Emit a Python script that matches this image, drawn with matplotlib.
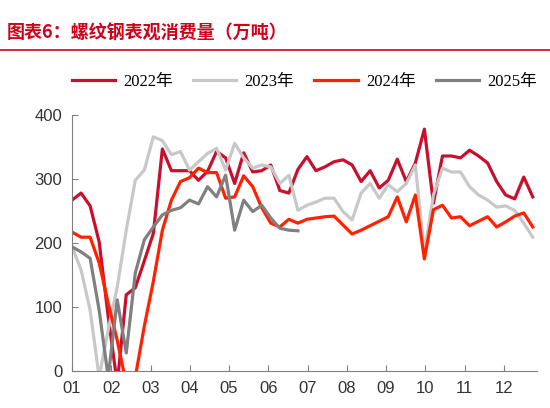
import numpy as np
import matplotlib.pyplot as plt
from matplotlib.lines import Line2D

# weekly apparent consumption of rebar (10k tonnes)
v2022 = [267, 278, 258, 202, 85, -20, 119, 130, 172, 215, 347, 313, 313, 313, 298, 312, 343, 333,
         293, 341, 311, 313, 322, 282, 278, 315, 335, 313, 319, 327, 330, 322, 296, 313, 286, 298,
         331, 296, 325, 378, 262, 336, 336, 333, 345, 336, 325, 296, 275, 269, 303, 272]
v2023 = [194, 158, 95, -10, 64, 131, 220, 298, 314, 366, 360, 338, 343, 314, 327, 340, 348, 314,
         356, 333, 317, 322, 319, 293, 306, 251, 259, 264, 270, 270, 249, 236, 278, 293, 270, 291,
         280, 293, 322, 184, 275, 317, 311, 311, 288, 275, 267, 256, 258, 251, 231, 209]
v2024 = [217, 209, 209, 169, 106, 48, -20, -10, 70, 140, 220, 267, 296, 302, 317, 310, 310, 270,
         272, 305, 288, 255, 231, 225, 237, 231, 237, 239, 241, 242, 228, 214, 220, 227, 234, 241,
         272, 233, 275, 175, 252, 259, 239, 241, 227, 234, 241, 225, 233, 242, 247, 225]
v2025 = [194, 186, 176, 95, -10, 111, 28, 153, 205, 225, 244, 251, 255, 267, 261, 288, 272, 306,
         220, 267, 249, 259, 239, 223, 220, 219]
months = ["01", "02", "03", "04", "05", "06", "07", "08", "09", "10", "11", "12"]
series = [("2022年", v2022, "#c8102e"), ("2023年", v2023, "#c8c8c8"),
          ("2024年", v2024, "#ff2200"), ("2025年", v2025, "#808080")]

plt.rcParams["font.family"] = ["Liberation Sans", "Noto Sans CJK SC"]

fig = plt.figure(figsize=(5.5, 4.08), dpi=100)
fig.text(0.012, 0.905, "图表6：螺纹钢表观消费量（万吨）", color="#d0021b", fontsize=13,
         fontweight="bold", style="italic", family=["Noto Sans CJK SC"])
fig.add_artist(Line2D([0.0, 1.0], [0.877, 0.877], color="#d0021b", lw=1.2))

ax = fig.add_axes([0.131, 0.091, 0.845, 0.627])
for name, vals, col in series:
    x = 1 + np.arange(len(vals)) / 4.345
    ax.plot(x, vals, color=col, lw=2.3, label=name, zorder=3 if name == "2025年" else 2)

ax.set_xlim(1, 12.84)
ax.set_ylim(0, 400)
ax.set_xticks(range(1, 13))
ax.set_xticklabels(months)
ax.set_yticks([0, 100, 200, 300, 400])
for s in ["top", "right"]:
    ax.spines[s].set_visible(False)
for s in ["left", "bottom"]:
    ax.spines[s].set_color("#808080")
ax.tick_params(axis="x", direction="in", colors="#808080", labelcolor="#333333", labelsize=12,
               length=4, pad=7)
ax.tick_params(axis="y", direction="in", colors="#808080", labelcolor="#333333", labelsize=12,
               length=4, pad=7)

ax.legend(loc="lower center", bbox_to_anchor=(0.5, 1.04), ncol=4, frameon=False,
          prop={"family": ["Liberation Serif", "Noto Sans CJK SC"], "size": 12},
          handlelength=2.6, columnspacing=1.2, handletextpad=0.5)

fig.savefig("out.png", dpi=100)
